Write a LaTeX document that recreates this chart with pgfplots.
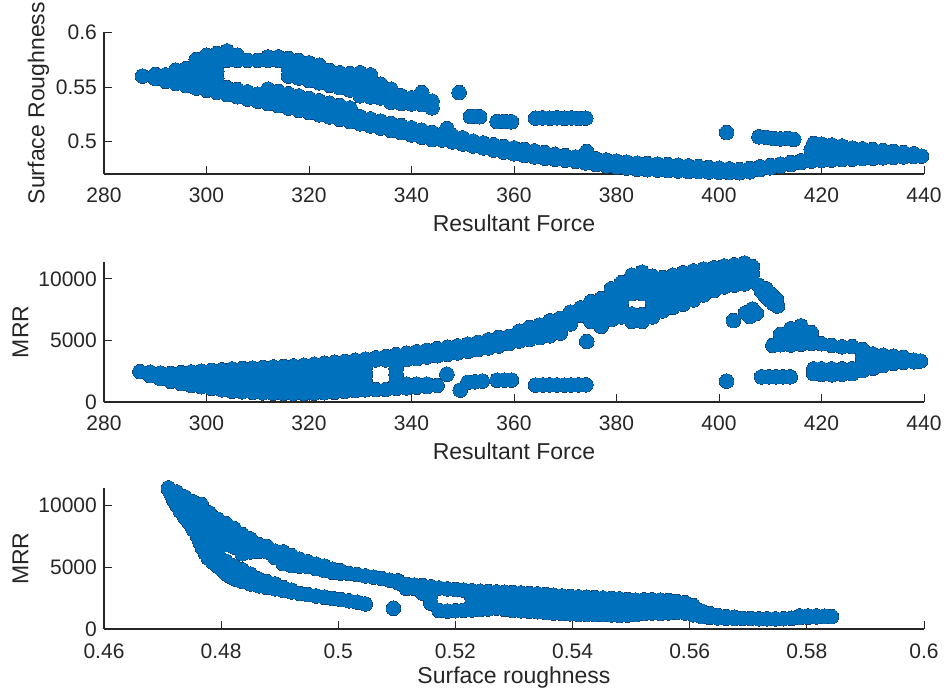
\documentclass[border=0pt]{standalone}
\usepackage{fontspec}
\setmainfont{Liberation Sans}
\usepackage{pgfplots}
\usepackage{pgfplotstable}
\pgfplotsset{compat=1.18}
\definecolor{mblue}{RGB}{0,114,189}
\definecolor{mrim}{RGB}{22,62,112}
\definecolor{axgray}{RGB}{38,38,38}

% Panel 1: Surface roughness vs resultant force
\pgfplotstableread[row sep=\\]{
x y\\
287.5 0.5600\\
290 0.5578\\ 290 0.5615\\
292 0.5553\\ 292 0.5610\\
294 0.5533\\ 294 0.5595\\ 294 0.5653\\
296 0.5512\\ 296 0.5575\\ 296 0.5640\\ 296 0.5668\\
298 0.5490\\ 298 0.5555\\ 298 0.5620\\ 298 0.5685\\ 298 0.5750\\
300 0.5470\\ 300 0.5535\\ 300 0.5600\\ 300 0.5665\\ 300 0.5730\\ 300 0.5790\\
302 0.5450\\ 302 0.5515\\ 302 0.5580\\ 302 0.5645\\ 302 0.5710\\ 302 0.5775\\ 302 0.5805\\
304 0.5430\\ 304 0.5495\\ 304 0.5745\\ 304 0.5829\\
306 0.5411\\ 306 0.5476\\ 306 0.5744\\ 306 0.5790\\
308 0.5390\\ 308 0.5455\\ 308 0.5744\\
310 0.5370\\ 310 0.5435\\ 310 0.5744\\
312 0.5350\\ 312 0.5415\\ 312 0.5480\\ 312 0.5744\\ 312 0.5775\\
314 0.5330\\ 314 0.5395\\ 314 0.5460\\ 314 0.5744\\ 314 0.5775\\
316 0.5308\\ 316 0.5373\\ 316 0.5438\\ 316 0.5600\\ 316 0.5670\\ 316 0.5760\\
318 0.5287\\ 318 0.5352\\ 318 0.5418\\ 318 0.5582\\ 318 0.5663\\ 318 0.5744\\
320 0.5267\\ 320 0.5331\\ 320 0.5396\\ 320 0.5560\\ 320 0.5640\\ 320 0.5720\\
322 0.5246\\ 322 0.5310\\ 322 0.5374\\ 322 0.5538\\ 322 0.5620\\ 322 0.5699\\
324 0.5226\\ 324 0.5290\\ 324 0.5352\\ 324 0.5516\\ 324 0.5585\\ 324 0.5650\\
326 0.5205\\ 326 0.5270\\ 326 0.5330\\ 326 0.5494\\ 326 0.5560\\ 326 0.5630\\
328 0.5184\\ 328 0.5246\\ 328 0.5308\\ 328 0.5472\\ 328 0.5540\\ 328 0.5622\\
330 0.5164\\ 330 0.5228\\ 330 0.5420\\ 330 0.5490\\ 330 0.5560\\ 330 0.5630\\
332 0.5144\\ 332 0.5208\\ 332 0.5410\\ 332 0.5480\\ 332 0.5550\\ 332 0.5610\\
334 0.5124\\ 334 0.5188\\ 334 0.5400\\ 334 0.5470\\ 334 0.5525\\
336 0.5103\\ 336 0.5167\\ 336 0.5360\\ 336 0.5420\\ 336 0.5480\\
338 0.5083\\ 338 0.5147\\ 338 0.5350\\ 338 0.5420\\
340 0.5062\\ 340 0.5126\\ 340 0.5345\\ 340 0.5400\\
342 0.5041\\ 342 0.5105\\ 342 0.5340\\ 342 0.5410\\ 342 0.5450\\
344 0.5020\\ 344 0.5085\\ 344 0.5310\\ 344 0.5370\\
346 0.5016\\ 346 0.5068\\ 346.9 0.5120\\
348 0.4998\\ 348 0.5055\\
349.3 0.5449\\
350 0.4979\\ 350 0.5035\\
351.5 0.5230\\ 352.5 0.5232\\ 353.3 0.5228\\
352 0.4961\\ 352 0.5005\\
354 0.4943\\ 354 0.4988\\
356 0.4924\\ 356 0.4972\\
356.7 0.5184\\ 358.1 0.5186\\ 359.5 0.5182\\
358 0.4905\\ 358 0.4956\\
360 0.4889\\ 360 0.4943\\
362 0.4875\\ 362 0.4930\\
364 0.4861\\ 364 0.4916\\
364.2 0.5215\\ 365.6 0.5218\\ 367.0 0.5215\\ 368.4 0.5218\\ 369.8 0.5214\\ 371.2 0.5217\\ 372.6 0.5213\\ 374.0 0.5216\\
366 0.4849\\ 366 0.4901\\
368 0.4840\\ 368 0.4885\\
370 0.4831\\ 370 0.4872\\
372 0.4821\\ 372 0.4860\\
374 0.4806\\ 374 0.4855\\ 374.2 0.4911\\
376 0.4792\\ 376 0.4843\\
378 0.4779\\ 378 0.4833\\
380 0.4769\\ 380 0.4823\\
382 0.4759\\ 382 0.4814\\
384 0.4749\\ 384 0.4804\\
386 0.4744\\ 386 0.4800\\
388 0.4740\\ 388 0.4795\\
390 0.4736\\ 390 0.4790\\
392 0.4733\\ 392 0.4785\\
394 0.4729\\ 394 0.4779\\
396 0.4726\\ 396 0.4772\\
398 0.4723\\ 398 0.4765\\
400 0.4720\\ 400 0.4758\\
401.5 0.5084\\
402 0.4718\\ 402 0.4752\\
404 0.4716\\ 404 0.4745\\
406 0.4725\\ 406 0.4755\\
407.8 0.5045\\ 409.2 0.5040\\ 410.6 0.5030\\ 412.0 0.5025\\ 413.4 0.5030\\ 414.6 0.5022\\
408 0.4746\\ 408 0.4771\\
410 0.4762\\ 410 0.4783\\
412 0.4776\\ 412 0.4795\\
414 0.4791\\ 414 0.4810\\
416 0.4810\\ 416 0.4825\\
418 0.4823\\ 418 0.4875\\ 418 0.4930\\ 418.5 0.4984\\
420 0.4828\\ 420 0.4880\\ 420 0.4932\\ 420 0.4978\\
422 0.4832\\ 422 0.4884\\ 422 0.4932\\ 422 0.4970\\
424 0.4836\\ 424 0.4888\\ 424 0.4935\\ 424 0.4960\\
426 0.4840\\ 426 0.4892\\ 426 0.4942\\
428 0.4845\\ 428 0.4895\\ 428 0.4935\\
430 0.4849\\ 430 0.4898\\ 430 0.4928\\
432 0.4853\\ 432 0.4900\\ 432 0.4920\\
434 0.4857\\ 434 0.4905\\ 434 0.4912\\
436 0.4861\\ 436 0.4900\\
438 0.4865\\ 438 0.4890\\
439.5 0.4868\\
}\tabA

% Panel 2: MRR vs resultant force
\pgfplotstableread[row sep=\\]{
x y\\
287 2470\\
289 2150\\ 289 2420\\
291 1900\\ 291 2350\\
293 1680\\ 293 2300\\
295 1500\\ 295 1940\\ 295 2380\\
297 1350\\ 297 1895\\ 297 2440\\
299 1240\\ 299 1663\\ 299 2087\\ 299 2510\\
301 1110\\ 301 1597\\ 301 2083\\ 301 2570\\
303 990\\ 303 1533\\ 303 2077\\ 303 2620\\
305 870\\ 305 1475\\ 305 2080\\ 305 2685\\
307 830\\ 307 1460\\ 307 2090\\ 307 2720\\
309 780\\ 309 1275\\ 309 1770\\ 309 2265\\ 309 2760\\
311 740\\ 311 1258\\ 311 1775\\ 311 2293\\ 311 2810\\
313 715\\ 313 1249\\ 313 1783\\ 313 2316\\ 313 2850\\
315 700\\ 315 1248\\ 315 1795\\ 315 2343\\ 315 2890\\
317 685\\ 317 1246\\ 317 1808\\ 317 2369\\ 317 2930\\
319 690\\ 319 1265\\ 319 1840\\ 319 2415\\ 319 2990\\
321 710\\ 321 1300\\ 321 1890\\ 321 2480\\ 321 3070\\
323 750\\ 323 1350\\ 323 1950\\ 323 2550\\ 323 3150\\
325 790\\ 325 1400\\ 325 2010\\ 325 2620\\ 325 3230\\
327 860\\ 327 1470\\ 327 2080\\ 327 2690\\ 327 3300\\
329 920\\ 329 1537\\ 329 2155\\ 329 2772\\ 329 3390\\
331 990\\ 331 1608\\ 331 2235\\ 331 2863\\ 331 3480\\
333 1000\\ 333 3420\\ 333 3590\\
335 1020\\ 335 3420\\ 335 3700\\
337 1100\\ 337 1650\\ 337 2200\\ 337 2750\\ 337 3300\\ 337 3850\\
339 1150\\ 339 1450\\ 339 3450\\ 339 3960\\
341 1200\\ 341 1450\\ 341 3520\\ 341 4080\\
343 1250\\ 343 1450\\ 343 3650\\ 343 4200\\
345 1350\\ 345 3760\\ 345 4330\\
346.9 2260\\
347 3870\\ 347 4450\\
349 3990\\ 349 4560\\
349.5 969\\
351 4130\\ 351 4700\\
351 1600\\ 352.4 1641\\ 353.8 1700\\
353 4260\\ 353 4850\\
355 4400\\ 355 5050\\
356.7 1776\\ 358.1 1776\\ 359.5 1776\\
357 4550\\ 357 4900\\ 357 5250\\
359 4750\\ 359 5040\\ 359 5330\\
361 4950\\ 361 5350\\ 361 5750\\
363 5080\\ 363 5565\\ 363 6050\\
364.2 1373\\ 365.6 1380\\ 367.0 1390\\ 368.4 1380\\ 369.8 1370\\ 371.2 1380\\ 372.6 1390\\ 374.0 1400\\
365 5230\\ 365 5740\\ 365 6250\\
367 5380\\ 367 5990\\ 367 6600\\
369 5600\\ 369 6200\\ 369 6800\\
371 6350\\ 371 6850\\ 371 7300\\
373 7045\\ 373 7650\\
374.2 4921\\
375 6550\\ 375 7150\\ 375 7750\\ 375 8150\\
377 6150\\ 377 6700\\ 377 7300\\ 377 7900\\ 377 8400\\
379 6700\\ 379 7325\\ 379 7950\\ 379 8575\\ 379 9200\\
381 6910\\ 381 7500\\ 381 8100\\ 381 8700\\ 381 9300\\ 381 9700\\
383 6550\\ 383 7150\\ 383 8800\\ 383 9330\\ 383 9850\\ 383 10300\\
385 6550\\ 385 7100\\ 385 8800\\ 385 9350\\ 385 9950\\ 385 10550\\
387 6910\\ 387 7500\\ 387 8100\\ 387 8700\\ 387 9300\\ 387 9800\\ 387 10216\\
389 7400\\ 389 7950\\ 389 8500\\ 389 9050\\ 389 9600\\ 389 10100\\
391 7700\\ 391 8230\\ 391 8760\\ 391 9300\\ 391 9830\\ 391 10300\\
393 7950\\ 393 8460\\ 393 8980\\ 393 9490\\ 393 10000\\ 393 10500\\
395 8300\\ 395 8890\\ 395 9480\\ 395 10060\\ 395 10650\\
397 8700\\ 397 9230\\ 397 9770\\ 397 10300\\ 397 10800\\
399 9050\\ 399 9667\\ 399 10283\\ 399 10900\\
401 9350\\ 401 9900\\ 401 10480\\ 401 11050\\
403 9500\\ 403 10050\\ 403 10600\\ 403 11150\\
405 9600\\ 405 10160\\ 405 10730\\ 405 11291\\
406.5 9800\\ 406.5 10400\\ 406.5 11000\\
407.7 9500\\ 408.3 9000\\ 409.0 8650\\ 409.8 8300\\ 410.6 8000\\ 411.4 7800\\
409.2 9200\\ 410.2 8750\\ 411.2 8350\\
405.2 7250\\ 406.5 7550\\ 406.0 6950\\ 407.3 7200\\
402.8 6614\\
401.5 1695\\
408.3 2045\\ 409.7 2045\\ 411.1 2045\\ 412.5 2045\\ 413.9 2045\\
410.5 4600\\
412 4650\\ 412 5100\\ 412 5500\\
414 4630\\ 414 5100\\ 414 5550\\ 414 5950\\
416 4700\\ 416 5200\\ 416 5700\\ 416 6180\\
418 4760\\ 418 5200\\ 418 5650\\
420 4730\\ 422 4600\\ 424 4480\\ 426 4500\\
418.5 2300\\ 418.5 2690\\
420 2250\\ 420 2690\\
422 2206\\ 422 2690\\
424 2250\\ 424 2690\\
426 2300\\ 426 2700\\
428 2550\\ 428 3120\\ 428 3690\\ 428 4260\\
430 2744\\ 430 3130\\ 430 3515\\ 430 3900\\
432 2950\\ 432 3380\\ 432 3800\\
434 3147\\ 434 3430\\ 434 3720\\
436 3220\\ 436 3630\\
438 3270\\ 438 3400\\
439.3 3330\\
}\tabB

% Panel 3: MRR vs surface roughness
\pgfplotstableread[row sep=\\]{
x y\\
0.47104 11301\\ 0.47150 10900\\ 0.47189 10488\\ 0.47250 10000\\ 0.47303 9540\\
0.47380 9050\\ 0.47457 8591\\ 0.47530 8050\\ 0.47599 7507\\ 0.47640 7000\\
0.47684 6558\\ 0.47730 6150\\ 0.47781 5745\\ 0.47860 5420\\ 0.47935 5122\\
0.48010 4820\\ 0.48083 4526\\ 0.48160 4260\\ 0.48265 4011\\
0.4710 11436\\
0.4724 10100\\ 0.4724 10650\\ 0.4724 11100\\
0.4738 9050\\ 0.4738 9600\\ 0.4738 10150\\ 0.4738 10700\\
0.4752 8100\\ 0.4752 8650\\ 0.4752 9200\\ 0.4752 9750\\ 0.4752 10300\\
0.4766 7100\\ 0.4766 7650\\ 0.4766 8200\\ 0.4766 8750\\ 0.4766 9300\\ 0.4766 9850\\ 0.4766 10100\\
0.4780 5850\\ 0.4780 6400\\ 0.4780 6950\\ 0.4780 7500\\ 0.4780 8050\\ 0.4780 8600\\ 0.4780 9150\\ 0.4780 9400\\
0.4794 5150\\ 0.4794 5700\\ 0.4794 6250\\ 0.4794 6800\\ 0.4794 7350\\ 0.4794 7900\\ 0.4794 8450\\ 0.4794 8900\\
0.4808 4500\\ 0.4808 5000\\ 0.4808 5500\\ 0.4808 6850\\ 0.4808 7400\\ 0.4808 7950\\ 0.4808 8550\\
0.4822 4100\\ 0.4822 4600\\ 0.4822 5100\\ 0.4822 6650\\ 0.4822 7200\\ 0.4822 7700\\ 0.4822 8150\\
0.4836 3850\\ 0.4836 4350\\ 0.4836 4800\\ 0.4836 6100\\ 0.4836 6600\\ 0.4836 7100\\ 0.4836 7650\\
0.4850 3650\\ 0.4850 4100\\ 0.4850 4450\\ 0.4850 6250\\ 0.4850 6750\\ 0.4850 7300\\
0.4864 3500\\ 0.4864 4050\\ 0.4864 6300\\ 0.4864 6850\\
0.4878 3380\\ 0.4878 3850\\ 0.4878 6250\\ 0.4878 6700\\
0.4892 3250\\ 0.4892 3650\\ 0.4892 5800\\ 0.4892 6300\\
0.4906 3120\\ 0.4906 3350\\ 0.4906 5300\\ 0.4906 5850\\ 0.4906 6250\\
0.4920 3000\\ 0.4920 3150\\ 0.4920 5150\\ 0.4920 5650\\ 0.4920 5950\\
0.4934 2880\\ 0.4934 5100\\ 0.4934 5650\\
0.4948 2780\\ 0.4948 5050\\ 0.4948 5450\\
0.4962 2680\\ 0.4962 4900\\ 0.4962 5250\\
0.4976 2580\\ 0.4976 4750\\ 0.4976 5100\\
0.4990 2480\\ 0.4990 4600\\ 0.4990 4850\\
0.5004 2380\\ 0.5004 4530\\ 0.5004 4720\\
0.5018 2280\\ 0.5018 4500\\
0.5032 2180\\ 0.5032 4420\\
0.5046 2030\\ 0.5046 4300\\
0.5060 4200\\ 0.5074 4100\\ 0.5088 3950\\
0.5094 1681\\
0.5102 3750\\ 0.5102 3900\\
0.5116 3300\\ 0.5116 3620\\
0.5130 3300\\ 0.5130 3560\\
0.5144 2900\\ 0.5144 3520\\
0.5158 2100\\ 0.5158 2750\\ 0.5158 3420\\
0.5172 1500\\ 0.5172 3320\\
0.5186 1450\\ 0.5186 3250\\
0.5200 1480\\ 0.5200 3200\\
0.5214 1510\\ 0.5214 3150\\
0.5228 1540\\ 0.5228 2060\\ 0.5228 2580\\ 0.5228 3100\\
0.5242 1570\\ 0.5242 2070\\ 0.5242 2560\\ 0.5242 3060\\
0.5256 1620\\ 0.5256 2090\\ 0.5256 2560\\ 0.5256 3030\\
0.5270 1700\\ 0.5270 2130\\ 0.5270 2570\\ 0.5270 3000\\
0.5284 1600\\ 0.5284 2060\\ 0.5284 2520\\ 0.5284 2980\\
0.5298 1500\\ 0.5298 1980\\ 0.5298 2470\\ 0.5298 2950\\
0.5312 1470\\ 0.5312 1950\\ 0.5312 2440\\ 0.5312 2920\\
0.5326 1440\\ 0.5326 1920\\ 0.5326 2400\\ 0.5326 2880\\
0.5340 1400\\ 0.5340 1880\\ 0.5340 2370\\ 0.5340 2850\\
0.5354 1330\\ 0.5354 1820\\ 0.5354 2310\\ 0.5354 2800\\
0.5368 1290\\ 0.5368 1770\\ 0.5368 2260\\ 0.5368 2740\\
0.5382 1260\\ 0.5382 1730\\ 0.5382 2210\\ 0.5382 2680\\
0.5396 1230\\ 0.5396 1700\\ 0.5396 2160\\ 0.5396 2630\\
0.5410 1180\\ 0.5410 1650\\ 0.5410 2130\\ 0.5410 2600\\
0.5424 1166\\ 0.5424 1640\\ 0.5424 2100\\ 0.5424 2570\\
0.5438 1166\\ 0.5438 1620\\ 0.5438 2080\\ 0.5438 2540\\
0.5452 1160\\ 0.5452 1610\\ 0.5452 2060\\ 0.5452 2510\\
0.5466 1140\\ 0.5466 1590\\ 0.5466 2030\\ 0.5466 2480\\
0.5480 1090\\ 0.5480 1540\\ 0.5480 1990\\ 0.5480 2440\\
0.5494 1130\\ 0.5494 1550\\ 0.5494 1960\\ 0.5494 2380\\
0.5508 1170\\ 0.5508 1560\\ 0.5508 1950\\ 0.5508 2340\\
0.5522 1260\\ 0.5522 1630\\ 0.5522 2000\\ 0.5522 2370\\
0.5536 1300\\ 0.5536 1650\\ 0.5536 2010\\ 0.5536 2370\\
0.5550 1260\\ 0.5550 1620\\ 0.5550 1980\\ 0.5550 2340\\
0.5564 1300\\ 0.5564 1800\\ 0.5564 2300\\
0.5578 1340\\ 0.5578 1790\\ 0.5578 2230\\
0.5592 1300\\ 0.5592 1710\\ 0.5592 2130\\
0.5606 1150\\ 0.5606 1520\\ 0.5606 1900\\
0.5620 1000\\ 0.5620 1450\\
0.5634 950\\ 0.5634 1250\\
0.5648 900\\ 0.5648 1100\\
0.5662 870\\ 0.5662 1000\\
0.5676 850\\ 0.5676 950\\
0.5690 860\\ 0.5704 850\\ 0.5718 830\\ 0.5732 820\\ 0.5746 820\\ 0.5760 830\\ 0.5774 870\\
0.5788 920\\ 0.5788 1060\\
0.5802 960\\ 0.5802 1060\\
0.5816 980\\ 0.5816 1060\\
0.5830 1000\\ 0.5830 1040\\
0.5842 1000\\
}\tabC

\pgfplotsset{
  matlab/.style={
    width=820bp, scale only axis, clip=false,
    scaled x ticks=false, scaled y ticks=false,
    axis x line*=bottom, axis y line*=left,
    axis line style={-, line width=1.1bp, draw=axgray},
    tick align=inside, major tick length=8bp,
    tick style={line width=1bp, draw=axgray},
    tick label style={font=\fontsize{21bp}{25bp}\selectfont, text=axgray, inner sep=0pt},
    xticklabel style={anchor=base, yshift=-29bp},
    yticklabel style={anchor=east, xshift=-7bp},
    every axis x label/.style={at={(axis description cs:0.5,0)}, anchor=base, yshift=-58bp,
      font=\fontsize{23bp}{27bp}\selectfont, text=axgray, inner sep=0pt},
    every axis y label/.style={at={(axis description cs:-0.0923,0.5)}, rotate=90, anchor=base,
      font=\fontsize{23bp}{27bp}\selectfont, text=axgray, inner sep=0pt},
  },
  mrimstyle/.style={only marks, mark=*, mark size=7.3bp, mark options={fill=mrim, draw=mrim, line width=0pt}},
  mdotstyle/.style={only marks, mark=*, mark size=6.7bp, mark options={fill=mblue, draw=mblue, line width=0pt}},
}

\begin{document}
\begin{tikzpicture}
\begin{axis}[matlab, at={(104bp,518bp)}, anchor=south west, height=141.7bp,
  xmin=280, xmax=440, ymin=0.4705, ymax=0.6,
  xtick={280,300,320,340,360,380,400,420,440},
  xticklabels={280,300,320,340,360,380,400,420,440},
  ytick={0.5,0.55,0.6}, yticklabels={0.5,0.55,0.6},
  xlabel={Resultant Force}, ylabel={Surface Roughness},
  ylabel style={at={(axis description cs:-0.0726,0.5)}},
]
\addplot[mrimstyle] table {\tabA};
\addplot[mdotstyle] table {\tabA};
\end{axis}

\begin{axis}[matlab, at={(104bp,290bp)}, anchor=south west, height=140.3bp,
  xmin=280, xmax=440, ymin=0, ymax=11400,
  xtick={280,300,320,340,360,380,400,420,440},
  xticklabels={280,300,320,340,360,380,400,420,440},
  ytick={0,5000,10000}, yticklabels={0,5000,10000},
  xlabel={Resultant Force}, ylabel={MRR},
]
\addplot[mrimstyle] table {\tabB};
\addplot[mdotstyle] table {\tabB};
\end{axis}

\begin{axis}[matlab, at={(104bp,63bp)}, anchor=south west, height=140.7bp,
  xmin=0.46, xmax=0.6, ymin=0, ymax=11400,
  xtick={0.46,0.48,0.5,0.52,0.54,0.56,0.58,0.6},
  xticklabels={0.46,0.48,0.5,0.52,0.54,0.56,0.58,0.6},
  ytick={0,5000,10000}, yticklabels={0,5000,10000},
  xlabel={Surface roughness}, ylabel={MRR},
  xlabel style={yshift=4bp},
]
\addplot[mrimstyle] table {\tabC};
\addplot[mdotstyle] table {\tabC};
\end{axis}
\pgfresetboundingbox
\path[use as bounding box] (0,0) rectangle (947bp,692bp);
\end{tikzpicture}
\end{document}
